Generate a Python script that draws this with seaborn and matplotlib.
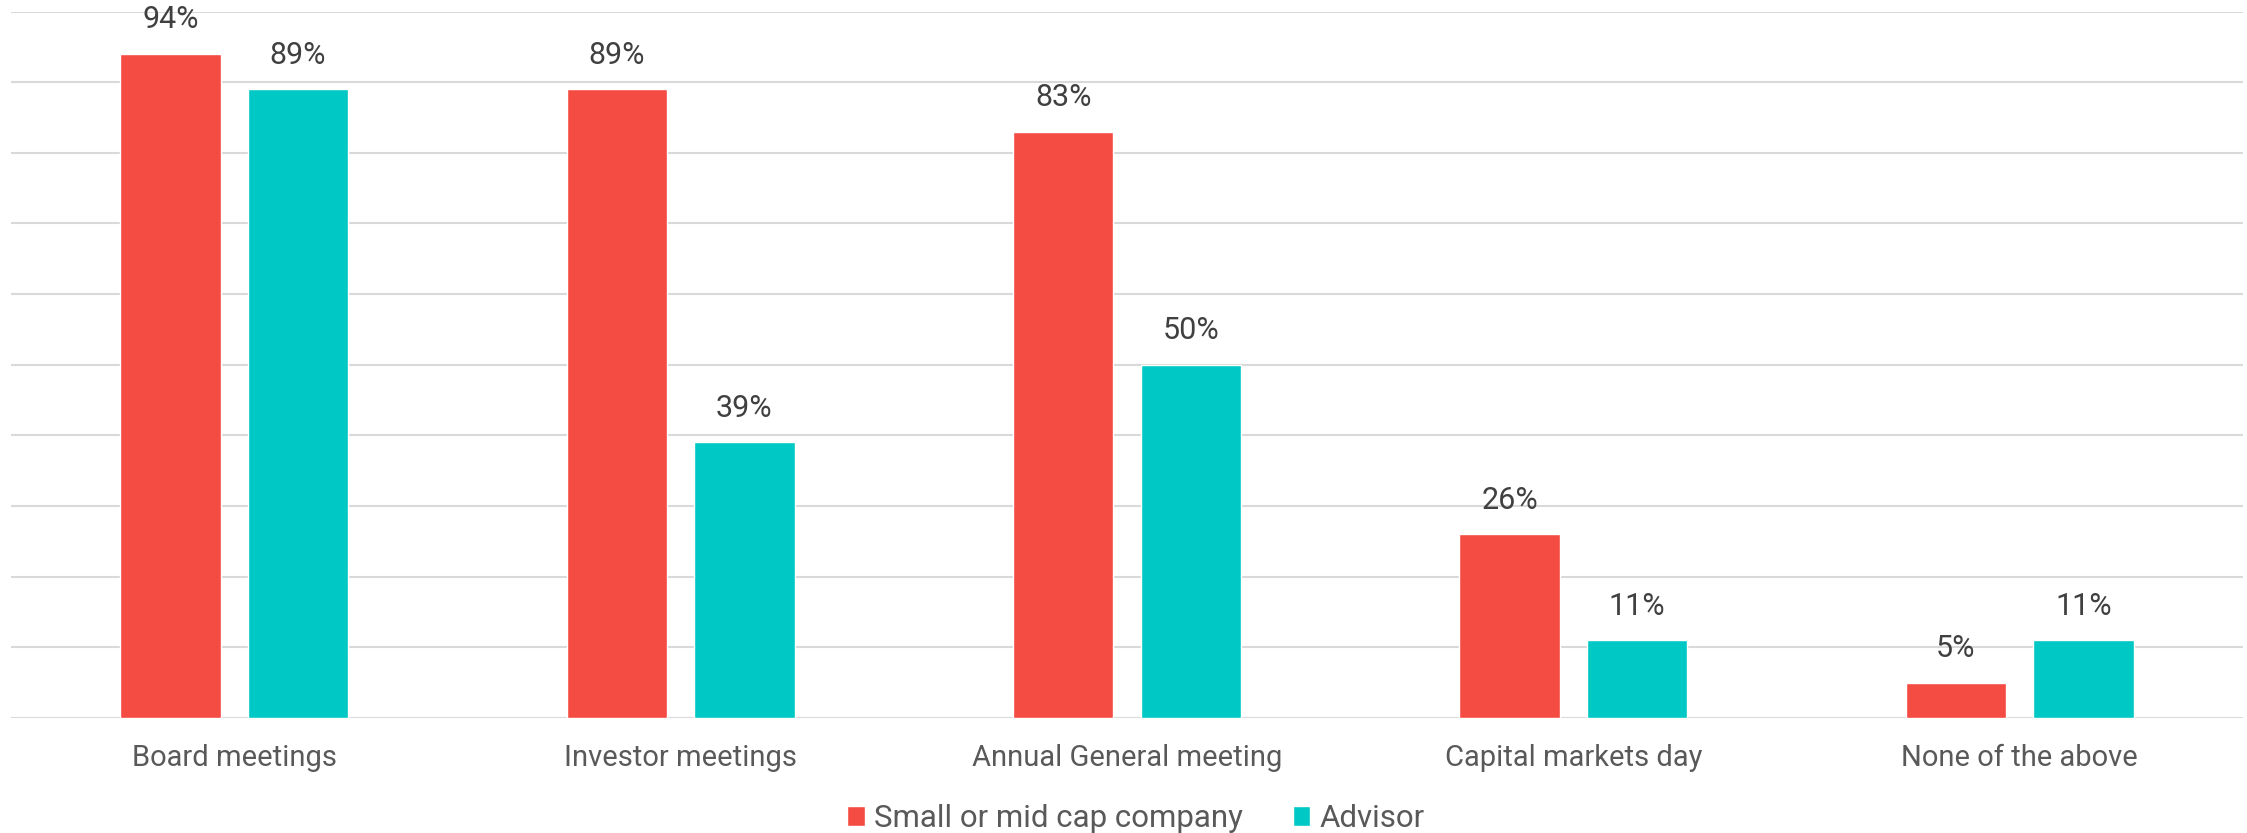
import pandas as pd
import matplotlib
matplotlib.use("Agg")
import matplotlib.pyplot as plt
import seaborn as sns

categories = ["Board meetings", "Investor meetings", "Annual General meeting",
              "Capital markets day", "None of the above"]
company_vals = [94, 89, 83, 26, 5]
advisor_vals = [89, 39, 50, 11, 11]
series_names = ["Small or mid cap company", "Advisor"]
colors = ["#F44B42", "#00C8C4"]

df = pd.DataFrame({
    "Category": categories * 2,
    "Value": company_vals + advisor_vals,
    "Series": [series_names[0]] * len(categories) + [series_names[1]] * len(categories),
})

sns.set_theme(style="white")
plt.rcParams["font.family"] = ["Roboto", "DejaVu Sans"]

fig = plt.figure(figsize=(22.47, 8.33), dpi=100)
ax = fig.add_axes([11 / 2247, 1 - 718 / 833, 2232 / 2247, (718 - 11.5) / 833])

sns.barplot(
    data=df, x="Category", y="Value", hue="Series",
    palette=dict(zip(series_names, colors)), width=0.572, gap=0.213,
    saturation=1, ax=ax, zorder=3, legend=True,
)

ax.set_ylim(0, 100)
ax.set_xlim(-0.5, len(categories) - 0.5)
ax.set_yticks(range(0, 101, 10))
ax.yaxis.grid(True, color="#D9D9D9", linewidth=1.5, zorder=0)
ax.set_axisbelow(True)
ax.tick_params(axis="y", left=False, labelleft=False)
ax.tick_params(axis="x", bottom=False, labelsize=21, labelcolor="#595959", pad=13)
for s in ax.spines.values():
    s.set_visible(False)
ax.set_xlabel("")
ax.set_ylabel("")

# value labels above each bar
for container in ax.containers:
    ax.bar_label(container, labels=[f"{v:.0f}%" for v in container.datavalues],
                 padding=14, fontsize=22, color="#404040")

handles, labels = ax.get_legend_handles_labels()
ax.legend(handles, labels, loc="upper center", bbox_to_anchor=(0.504, -0.082),
          ncol=2, frameon=False, fontsize=22.5, labelcolor="#595959",
          handlelength=0.55, handleheight=0.6, handletextpad=0.3, columnspacing=1.6)

fig.savefig("out.png", dpi=100)
